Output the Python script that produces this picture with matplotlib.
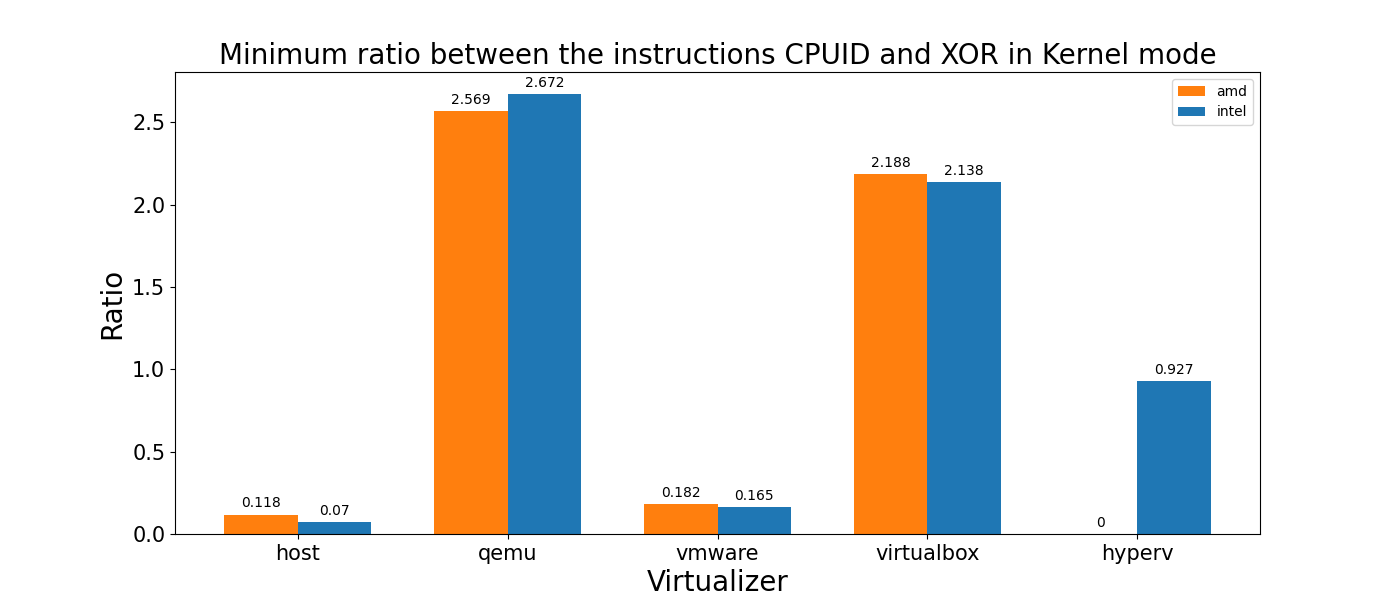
import matplotlib
matplotlib.use("Agg")
import matplotlib.pyplot as plt
import numpy as np

virtualizers = ["host", "qemu", "vmware", "virtualbox", "hyperv"]
amd_ratio = [0.118, 2.569, 0.182, 2.188, 0]
intel_ratio = [0.07, 2.672, 0.165, 2.138, 0.927]

x = np.arange(len(virtualizers))
width = 0.35

fig, ax = plt.subplots(figsize=(14, 6), dpi=100)
amd_bars = ax.bar(x - width / 2, amd_ratio, width, label="amd", color="tab:orange")
intel_bars = ax.bar(x + width / 2, intel_ratio, width, label="intel", color="tab:blue")

ax.bar_label(amd_bars, padding=3)
ax.bar_label(intel_bars, padding=3)

ax.set_title("Minimum ratio between the instructions CPUID and XOR in Kernel mode", fontsize=20)
ax.set_xlabel("Virtualizer", fontsize=20)
ax.set_ylabel("Ratio", fontsize=20)
ax.set_xticks(x)
ax.set_xticklabels(virtualizers)
ax.tick_params(axis="both", labelsize=15)
ax.legend(loc="upper right")

fig.savefig("out.png")
